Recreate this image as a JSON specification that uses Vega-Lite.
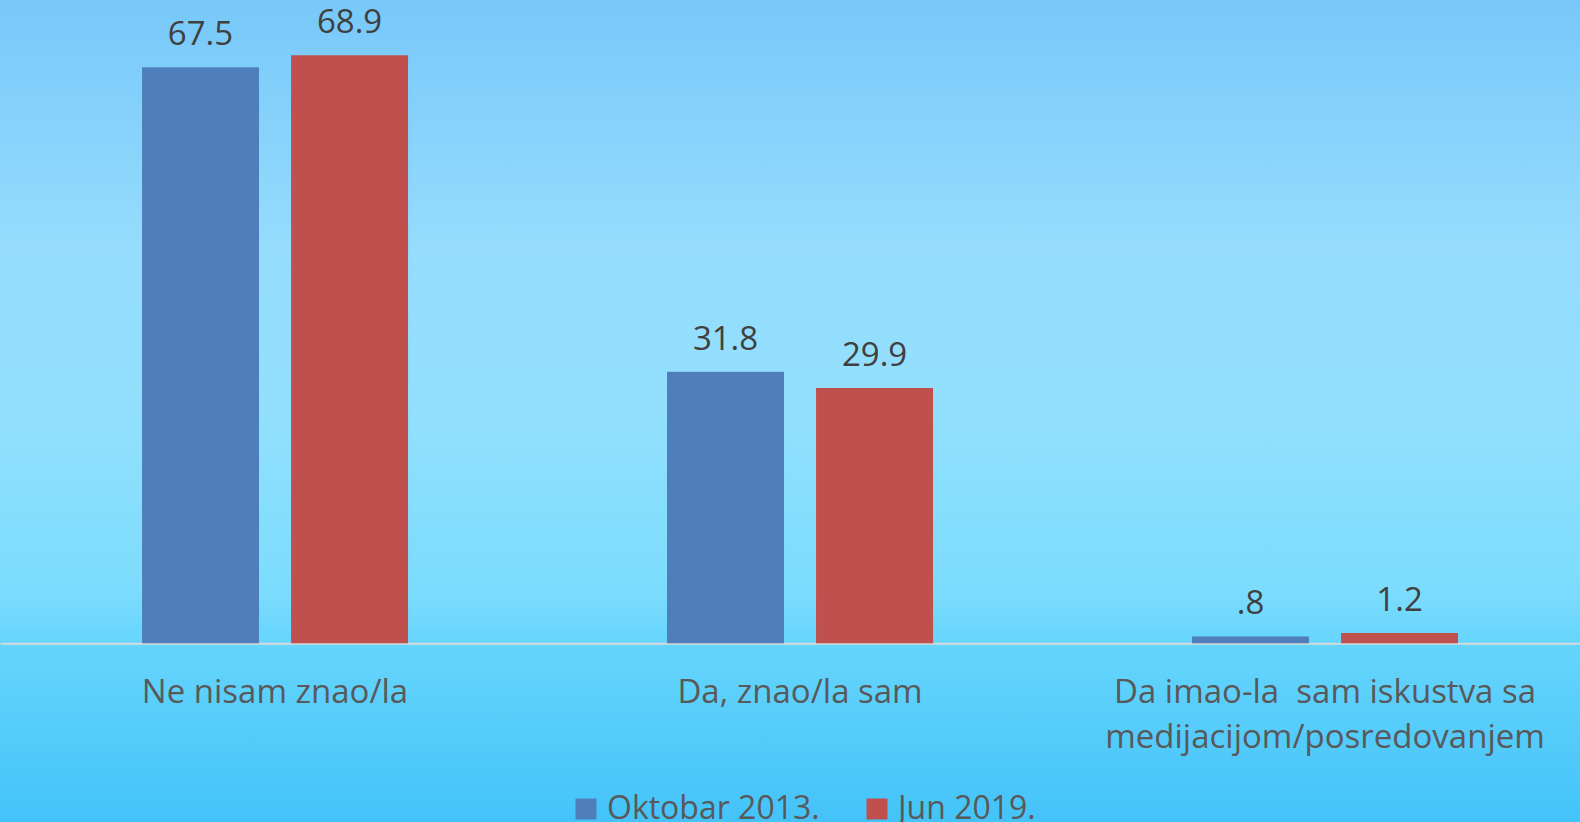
{
  "$schema": "https://vega.github.io/schema/vega-lite/v6.json",
  "width": 1580,
  "height": 822,
  "padding": 0,
  "autosize": {"type": "none"},
  "background": "#45c3f9",
  "config": {
    "font": "Open Sans",
    "view": {
      "stroke": null,
      "fill": {
        "gradient": "linear",
        "x1": 0, "y1": 0, "x2": 0, "y2": 1,
        "stops": [
          {"offset": 0, "color": "#77c8f9"},
          {"offset": 0.3, "color": "#95dcfd"},
          {"offset": 0.5, "color": "#92e0fd"},
          {"offset": 0.72, "color": "#7cdcfd"},
          {"offset": 0.78, "color": "#66d5fc"},
          {"offset": 1, "color": "#44c3f9"}
        ]
      }
    }
  },
  "data": {
    "values": [
      {"category": "Ne nisam znao/la", "period": "Oktobar 2013.", "value": 67.5},
      {"category": "Ne nisam znao/la", "period": "Jun 2019.", "value": 68.9},
      {"category": "Da, znao/la sam", "period": "Oktobar 2013.", "value": 31.8},
      {"category": "Da, znao/la sam", "period": "Jun 2019.", "value": 29.9},
      {"category": "Da imao-la  sam iskustva sa medijacijom/posredovanjem", "period": "Oktobar 2013.", "value": 0.8},
      {"category": "Da imao-la  sam iskustva sa medijacijom/posredovanjem", "period": "Jun 2019.", "value": 1.2}
    ]
  },
  "transform": [
    {"calculate": "datum.value < 1 ? substring(format(datum.value, '.1f'), 1) : format(datum.value, '.1f')", "as": "label"}
  ],
  "encoding": {
    "x": {
      "field": "category",
      "type": "nominal",
      "sort": null,
      "scale": {"paddingInner": 0.4933, "paddingOuter": 0.2514, "align": 0.538},
      "axis": {
        "orient": "bottom",
        "offset": -178.7,
        "title": null,
        "domainColor": "#d9d9d9",
        "domainWidth": 2,
        "ticks": false,
        "grid": false,
        "labelAngle": 0,
        "labelFontSize": 33,
        "labelColor": "#595959",
        "labelPadding": 33,
        "labelLimit": 0,
        "labelLineHeight": 45,
        "labelBaseline": "top",
        "labelExpr": "datum.label == 'Da imao-la  sam iskustva sa medijacijom/posredovanjem' ? ['Da imao-la\u00a0 sam iskustva sa', 'medijacijom/posredovanjem'] : datum.label"
      }
    },
    "xOffset": {
      "field": "period",
      "type": "nominal",
      "sort": ["Oktobar 2013.", "Jun 2019."],
      "scale": {"paddingInner": 0.215, "paddingOuter": 0}
    },
    "y": {
      "field": "value",
      "type": "quantitative",
      "scale": {"domain": [-20.94, 75.37], "nice": false, "zero": false},
      "axis": null
    }
  },
  "layer": [
    {
      "mark": {"type": "bar"},
      "encoding": {
        "color": {
          "field": "period",
          "type": "nominal",
          "sort": ["Oktobar 2013.", "Jun 2019."],
          "scale": {"domain": ["Oktobar 2013.", "Jun 2019."], "range": ["#4f7fbb", "#c0504d"]},
          "legend": {
            "orient": "none",
            "legendX": 570,
            "legendY": 793,
            "direction": "horizontal",
            "title": null,
            "symbolType": "square",
            "symbolSize": 441,
            "symbolStrokeWidth": 0,
            "labelFontSize": 32,
            "labelColor": "#595959",
            "labelOffset": 5,
            "labelLimit": 0,
            "columnPadding": 41,
            "padding": 0
          }
        },
        "y2": {"datum": 0}
      }
    },
    {
      "mark": {"type": "text", "fontSize": 33, "color": "#404040", "baseline": "alphabetic", "dy": -22},
      "encoding": {
        "text": {"field": "label"}
      }
    }
  ]
}
